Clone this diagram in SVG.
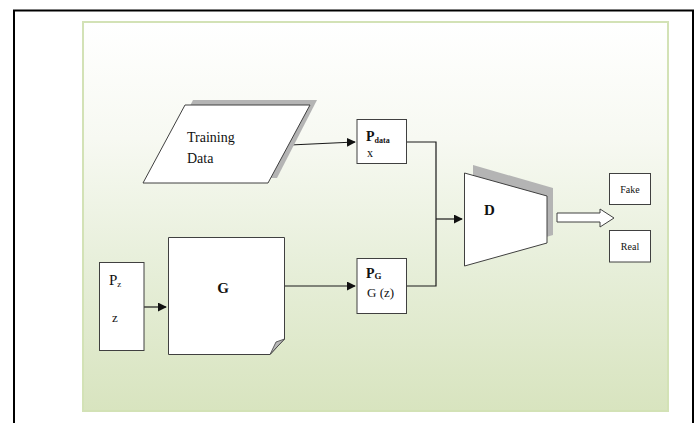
<svg xmlns="http://www.w3.org/2000/svg" width="696" height="423" viewBox="0 0 696 423">
  <style>
    .box { fill: #ffffff; stroke: #404040; stroke-width: 1; }
    .shadow { fill: #b4b4b4; stroke: none; }
    .wire { fill: none; stroke: #1a1a1a; stroke-width: 1.2; }
    .txt { font-family: "Liberation Serif", "Times New Roman", serif; fill: #111111; }
    .bold { font-weight: bold; }
  </style>
  <defs>
    <linearGradient id="panelFill" x1="0" y1="0" x2="0" y2="1">
      <stop offset="0" stop-color="#ffffff"/>
      <stop offset="0.3" stop-color="#f7f9f2"/>
      <stop offset="0.65" stop-color="#e6eed8"/>
      <stop offset="1" stop-color="#d8e4bf"/>
    </linearGradient>
    <marker id="head" viewBox="0 0 10 10" refX="9" refY="5" markerWidth="9" markerHeight="9" markerUnits="userSpaceOnUse" orient="auto">
      <path d="M0,0 L10,5 L0,10 z" fill="#111111"/>
    </marker>
  </defs>

  <!-- page frame -->
  <rect x="0" y="0" width="696" height="423" fill="#ffffff"/>
  <rect x="14" y="10.5" width="679" height="430" fill="none" stroke="#000000" stroke-width="2"/>

  <!-- background panel -->
  <rect x="83" y="22" width="585" height="389" fill="url(#panelFill)" stroke="#d3e2b6" stroke-width="2"/>

  <!-- connectors -->
  <g id="connectors">
    <path class="wire" d="M290,145 L355,142" marker-end="url(#head)"/>
    <path class="wire" d="M285,286 L355,286" marker-end="url(#head)"/>
    <path class="wire" d="M144,307 L166,307" marker-end="url(#head)"/>
    <path class="wire" d="M407,142 L436,142 L436,286 L407,286"/>
    <path class="wire" d="M436,219 L462,219" marker-end="url(#head)"/>
    <!-- block arrow D -> outputs -->
    <path d="M557,213 L600,213 L600,209 L614,218 L600,227 L600,222 L557,222 z" fill="#ffffff" stroke="#404040" stroke-width="1"/>
  </g>

  <!-- training data -->
  <g id="training-data">
    <path class="shadow" d="M193,100 L317,100 L277,178 L153,178 z"/>
    <path class="box" d="M185,105 L310,105 L268,183 L143,183 z"/>
    <text class="txt" x="187" y="142" font-size="14">Training</text>
    <text class="txt" x="187" y="163" font-size="14">Data</text>
  </g>

  <!-- real data distribution -->
  <g id="p-data">
    <rect class="box" x="357" y="119.5" width="49.5" height="44"/>
    <text class="txt bold" x="366" y="141" font-size="14">P<tspan font-size="8" dy="2">data</tspan></text>
    <text class="txt" x="367" y="157" font-size="12">x</text>
  </g>

  <!-- noise prior -->
  <g id="p-z">
    <rect class="box" x="99.5" y="262.5" width="44.5" height="88"/>
    <text class="txt" x="109" y="285" font-size="15">P<tspan font-size="9" dy="2">z</tspan></text>
    <text class="txt" x="112" y="322" font-size="13">z</text>
  </g>

  <!-- generator -->
  <g id="generator">
    <path class="box" d="M168.5,237.5 L284.5,237.5 L284.5,339 L270,354.5 L168.5,354.5 z"/>
    <path d="M284.5,339 L276,342 L270,354.5 z" fill="#b8b8b8" stroke="#404040" stroke-width="0.8"/>
    <text class="txt bold" x="223" y="293" font-size="15" text-anchor="middle">G</text>
  </g>

  <!-- generated distribution -->
  <g id="p-g">
    <rect class="box" x="357" y="258.5" width="49.5" height="55"/>
    <text class="txt bold" x="366" y="278" font-size="14">P<tspan font-size="9" dy="1">G</tspan></text>
    <text class="txt" x="367" y="297" font-size="13">G (z)</text>
  </g>

  <!-- discriminator -->
  <g id="discriminator">
    <path class="shadow" d="M473,165 L553,188 L553,235 L473,258 z"/>
    <path class="box" d="M464.5,173 L547,196 L547,243 L464.5,266 z"/>
    <text class="txt bold" x="484" y="215" font-size="15">D</text>
  </g>

  <!-- outputs -->
  <g id="fake">
    <rect class="box" x="609.5" y="173.5" width="41" height="31"/>
    <text class="txt" x="630" y="193" font-size="10" text-anchor="middle">Fake</text>
  </g>
  <g id="real">
    <rect class="box" x="609.5" y="230.5" width="41" height="31.5"/>
    <text class="txt" x="630" y="250" font-size="10" text-anchor="middle">Real</text>
  </g>
</svg>
